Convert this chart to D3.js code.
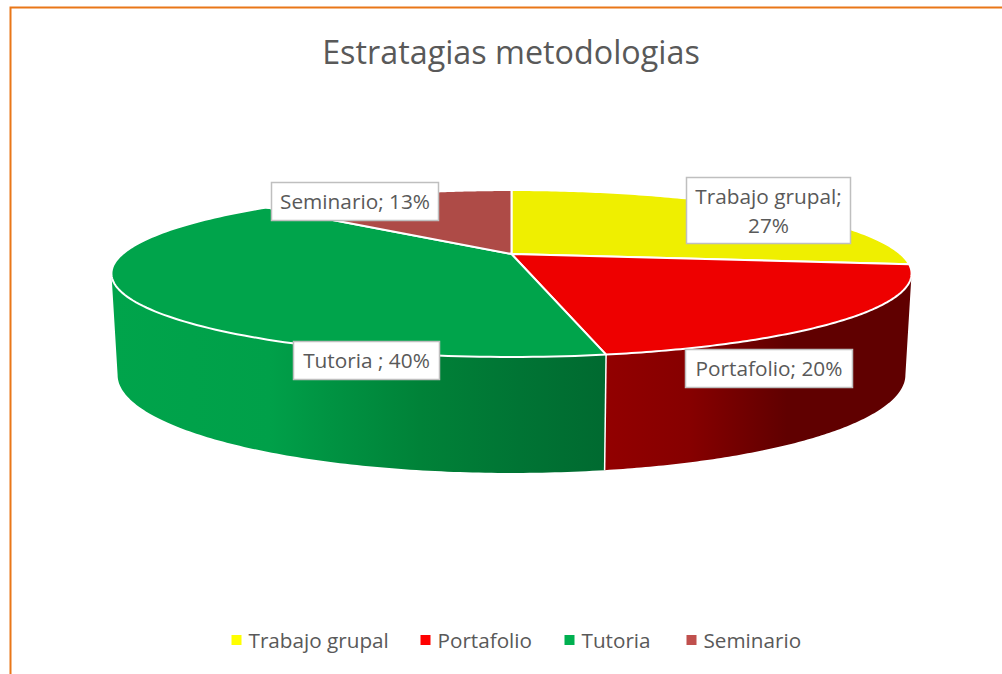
<!DOCTYPE html>
<html>
<head>
<meta charset="utf-8">
<script src="https://cdnjs.cloudflare.com/ajax/libs/d3/7.8.5/d3.min.js"></script>
<style>
html,body{margin:0;padding:0;background:#fff}
svg{display:block}
text{font-family:"Open Sans",sans-serif;fill:#595959}
</style>
</head>
<body>
<svg id="chart" width="1002" height="674"></svg>
<script>
const categories = ["Trabajo grupal", "Portafolio", "Tutoria", "Seminario"];
const values = [27, 20, 40, 13];
const titleText = "Estratagias metodologias";
const labelLines = [["Trabajo grupal;", "27%"], ["Portafolio; 20%"], ["Tutoria ; 40%"], ["Seminario; 13%"]];
const topColors = ["#EFEF00", "#EE0000", "#00A44B", "#AE4B47"];
const legendColors = ["#FFFF00", "#FF0000", "#00B050", "#C0504D"];

const W = 1002, H = 674;
const svg = d3.select("#chart");
const defs = svg.append("defs");

// Perspective projection of the pie's circle (top face and bottom face)
const persp = -0.2335;
const topFace = {x0: 511.5, y0: 254, a: 389, b: 78.9};
const botFace = {x0: 511.5, y0: 352, a: 383, b: 92.7};
const project = (f, t) => {
  const u = Math.sin(t), v = -Math.cos(t), d = 1 + persp * v;
  return [f.x0 + f.a * u / d, f.y0 + f.b * v / d];
};
const line = d3.line();
const arcPts = (f, a0, a1) => d3.range(0, 121).map(i => project(f, a0 + (a1 - a0) * i / 120));

const arcs = d3.pie().sort(null).value(d => d)(values);

// Walls (only the near side of the pie is visible)
const silhouette = Math.acos(persp);
const wallRange = [silhouette, 2 * Math.PI - silhouette];

const wallGrad = (id, stops) => {
  const g = defs.append("linearGradient").attr("id", id)
    .attr("gradientUnits", "userSpaceOnUse").attr("x1", 0).attr("x2", W).attr("y1", 0).attr("y2", 0);
  stops.forEach(s => g.append("stop").attr("offset", s[0] / W).attr("stop-color", s[1]));
};
wallGrad("wall1", [[606, "#920000"], [690, "#860000"], [787, "#600000"], [911, "#600000"]]);
wallGrad("wall2", [[112, "#00A44B"], [270, "#00A049"], [330, "#009342"], [420, "#008238"], [520, "#007434"], [606, "#006A30"]]);
const wallFill = {1: "url(#wall1)", 2: "url(#wall2)"};

arcs.forEach((d, i) => {
  const a0 = Math.max(d.startAngle, wallRange[0]), a1 = Math.min(d.endAngle, wallRange[1]);
  if (a1 <= a0) return;
  const pts = arcPts(topFace, a0, a1).concat(arcPts(botFace, a1, a0));
  svg.append("path").attr("d", line(pts) + "Z").attr("fill", wallFill[i]);
});

// Seam between walls
const seam = arcs[1].endAngle;
svg.append("path").attr("d", line([project(topFace, seam), project(botFace, seam)]))
  .attr("stroke", "#fff").attr("stroke-width", 1.5).attr("fill", "none");

// Top face
arcs.forEach((d, i) => {
  const pts = [[topFace.x0, topFace.y0]].concat(arcPts(topFace, d.startAngle, d.endAngle));
  svg.append("path").attr("d", line(pts) + "Z").attr("fill", topColors[i])
    .attr("stroke", "#fff").attr("stroke-width", 2).attr("stroke-linejoin", "round");
});

// Frame
svg.append("path").attr("d", line([[10.5, H], [10.5, 7.5], [W, 7.5]]))
  .attr("fill", "none").attr("stroke", "#E97718").attr("stroke-width", 2);

// Title
svg.append("text").attr("x", 511).attr("y", 64).attr("text-anchor", "middle")
  .attr("font-size", 32.3).text(titleText);

// Data labels
const labelBoxes = [
  {x: 686, y: 177, w: 164, h: 66},
  {x: 685, y: 349, w: 167, h: 38},
  {x: 293, y: 341, w: 146, h: 38},
  {x: 271, y: 182, w: 167, h: 38}
];
labelLines.forEach((lines, i) => {
  const b = labelBoxes[i];
  svg.append("rect").attr("x", b.x + .5).attr("y", b.y + .5).attr("width", b.w).attr("height", b.h)
    .attr("fill", "#fff").attr("stroke", "#BFBFBF").attr("stroke-width", 1.5);
  lines.forEach((t, k) => {
    svg.append("text").attr("x", b.x + b.w / 2 + .5).attr("y", b.y + 27 + k * 28.5)
      .attr("text-anchor", "middle").attr("font-size", 20.8).text(t);
  });
});

// Legend
const legendX = [231.5, 420.5, 564.5, 686.5];
categories.forEach((c, i) => {
  svg.append("rect").attr("x", legendX[i]).attr("y", 635).attr("width", 10).attr("height", 10).attr("fill", legendColors[i]);
  svg.append("text").attr("x", legendX[i] + 17).attr("y", 648).attr("font-size", 20.7).text(c);
});
</script>
</body>
</html>
